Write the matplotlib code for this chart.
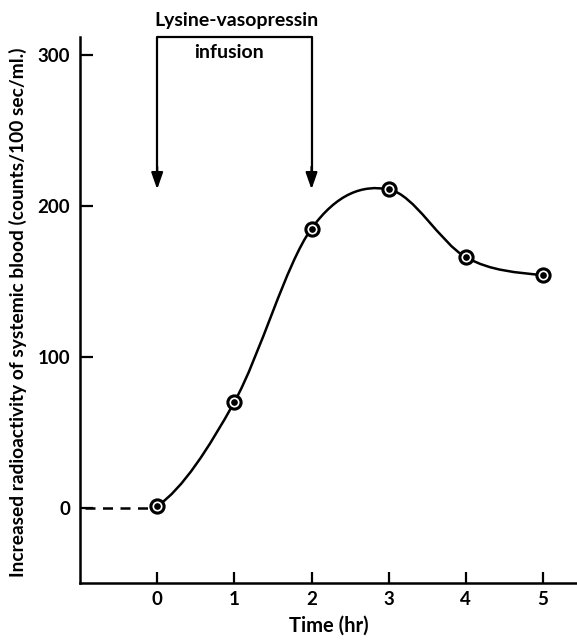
import matplotlib
matplotlib.use("Agg")
import matplotlib.pyplot as plt
from matplotlib.path import Path
from matplotlib.patches import PathPatch
import numpy as np

# data
time_hr = [0, 1, 2, 3, 4, 5]
radioactivity = [1, 70, 185, 211, 166, 154]
xticks = [0, 1, 2, 3, 4, 5]
yticks = [0, 100, 200, 300]
infusion_start = 0
infusion_end = 2

plt.rcParams['font.family'] = ['Lato', 'DejaVu Sans']
plt.rcParams['font.weight'] = 'bold'

fig = plt.figure(figsize=(5.77, 6.4), dpi=100)
ax = fig.add_axes([80/577, 1-583/640, 1-80/577, (583-37)/640])
ax.set_xlim(-1.0, 5.44)
ax.set_ylim(-50, 312)

# smooth curve through the points (cubic bezier, catmull-rom tangents)
x = np.array(time_hr, float)
y = np.array(radioactivity, float)
n = len(x)
m = np.zeros(n)
m[1:-1] = (y[2:] - y[:-2]) / (x[2:] - x[:-2])
m[0] = 0.5 * (y[1] - y[0]) / (x[1] - x[0])
m[-1] = 0.5 * (y[-1] - y[-2]) / (x[-1] - x[-2])
verts = [(x[0], y[0])]
codes = [Path.MOVETO]
for i in range(n - 1):
    h = x[i+1] - x[i]
    verts += [(x[i] + h/3, y[i] + m[i]*h/3),
              (x[i+1] - h/3, y[i+1] - m[i+1]*h/3),
              (x[i+1], y[i+1])]
    codes += [Path.CURVE4] * 3
ax.add_patch(PathPatch(Path(verts, codes), fill=False, lw=1.8, color='black', zorder=2))

# dashed baseline before infusion
ax.plot([-0.93, time_hr[0]], [0, 0], ls=(0, (4, 3)), lw=1.8, color='black', zorder=2)

# points: ring with a dot
ax.plot(time_hr, radioactivity, 'o', ms=9.5, mfc='white', mec='black', mew=2.2, zorder=3)
ax.plot(time_hr, radioactivity, 'o', ms=3.8, color='black', zorder=4)

# infusion bracket with arrows
top = 312
ax.plot([infusion_start, infusion_start, infusion_end, infusion_end],
        [222, top, top, 222], color='black', lw=1.6, clip_on=False)
for xa in [infusion_start, infusion_end]:
    ax.annotate('', xy=(xa, 211), xytext=(xa, 226),
                arrowprops=dict(arrowstyle='-|>,head_length=1.0,head_width=0.35',
                                color='black', lw=1.6, shrinkA=0, shrinkB=0))
ax.text(1.03, 323, 'Lysine-vasopressin', ha='center', va='center', fontsize=14,
        fontweight='bold', clip_on=False)
ax.text(0.93, 302, 'infusion', ha='center', va='center', fontsize=14, fontweight='bold')

for s in ['top', 'right']:
    ax.spines[s].set_visible(False)
for s in ['left', 'bottom']:
    ax.spines[s].set_linewidth(1.8)

ax.set_xticks(xticks)
ax.set_yticks(yticks)
ax.tick_params(axis='both', direction='in', width=1.6, labelsize=13.5)
ax.tick_params(axis='y', length=9, pad=7)
ax.tick_params(axis='x', length=8, pad=6)

ax.set_xlabel('Time (hr)', fontsize=14.5, fontweight='bold', labelpad=5)
fig.text(18/577, 1-312/640, 'Increased radioactivity of systemic blood (counts/100 sec/ml.)',
         rotation=90, ha='center', va='center', fontsize=13.8, fontweight='bold')

fig.savefig('out.png', dpi=100)
